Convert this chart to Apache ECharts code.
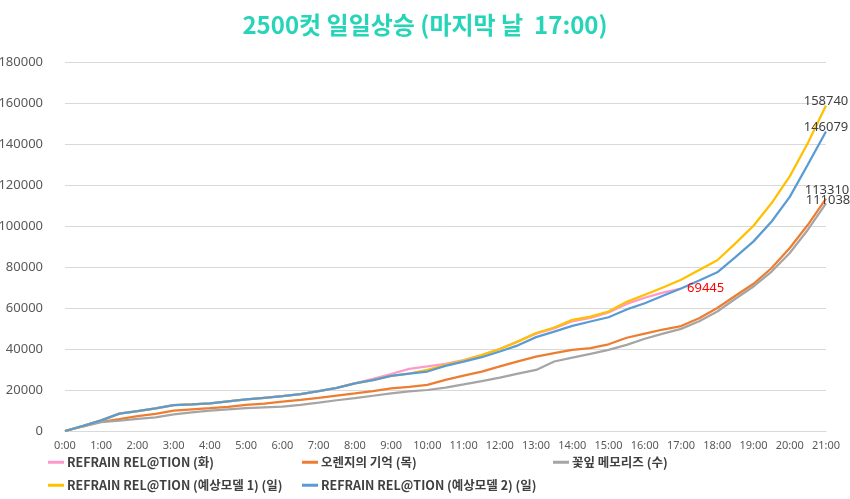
<!DOCTYPE html>
<html>
<head>
<meta charset="utf-8">
<script src="https://cdn.jsdelivr.net/npm/echarts@6/dist/echarts.min.js"></script>
<style>html,body{margin:0;padding:0;background:#fff;}#c{width:850px;height:499px;}</style>
</head>
<body>
<div id="c"></div>
<script>
const times = ["0:00","0:30","1:00","1:30","2:00","2:30","3:00","3:30","4:00","4:30","5:00","5:30","6:00","6:30","7:00","7:30","8:00","8:30","9:00","9:30","10:00","10:30","11:00","11:30","12:00","12:30","13:00","13:30","14:00","14:30","15:00","15:30","16:00","16:30","17:00","17:30","18:00","18:30","19:00","19:30","20:00","20:30","21:00"];

const seriesNames = ["REFRAIN REL@TION (화)","오렌지의 기억 (목)","꽃잎 메모리즈 (수)","REFRAIN REL@TION (예상모델 1) (일)","REFRAIN REL@TION (예상모델 2) (일)"];

const refrainTue = [0,2500,5200,8500,9700,11000,12600,13000,13500,14500,15400,16200,17000,18000,19500,21000,23200,25400,27800,30300,31500,32800,34600,37000,40000,43800,47500,50000,53500,55200,57800,62000,65000,67500,69445];
const orangeThu = [0,2300,4500,5800,7300,8400,9900,10600,11100,11800,12700,13400,14300,15200,16200,17300,18300,19500,20800,21500,22500,24900,27000,29000,31500,34000,36300,38000,39600,40400,42300,45500,47500,49500,51200,55000,60000,66000,71800,79500,89300,100600,113310];
const petalWed = [0,2200,4300,5000,5900,6700,8100,9100,9900,10500,11100,11500,11900,12800,13800,15000,16000,17200,18400,19300,20000,21200,22700,24300,26000,28000,29800,33900,35800,37600,39600,42000,45000,47500,49800,53500,58300,64500,70500,77800,86800,98200,111038];
const model1Sun = [0,2500,5200,8500,9700,11000,12600,13000,13500,14500,15400,16200,17000,18000,19500,21000,23200,24800,26900,28000,29800,32300,34300,37000,40000,43600,47800,50500,54200,55800,58300,63000,66500,70000,73800,78500,83300,91500,100100,111200,124200,140500,158740];
const model2Sun = [0,2500,5200,8500,9700,11000,12600,13000,13500,14500,15400,16200,17000,18000,19500,21000,23200,24800,26900,28000,29000,31800,33800,36000,38800,41800,45800,48500,51300,53400,55500,59300,62300,66000,69500,73400,77400,84800,92500,102200,114200,130000,146079];

const colors = ["#ff99cc","#ed7d31","#a5a5a5","#ffc000","#5b9bd5"];
const datasets = [refrainTue, orangeThu, petalWed, model1Sun, model2Sun];

const endLabelCfg = [
  {color:"#ff0000", align:"left", verticalAlign:"middle", offset:[6,0]},
  {color:"#404040", align:"center", verticalAlign:"middle", offset:[1,-8]},
  {color:"#404040", align:"center", verticalAlign:"middle", offset:[2,-3]},
  {color:"#404040", align:"center", verticalAlign:"middle", offset:[0,-4]},
  {color:"#404040", align:"center", verticalAlign:"middle", offset:[0,-4]}
];

const series = seriesNames.map((n, i) => ({
  name: n,
  type: "line",
  data: datasets[i],
  showSymbol: false,
  symbol: "none",
  smooth: false,
  color: colors[i],
  lineStyle: {width: 2.25, color: colors[i]},
  emphasis: {disabled: true},
  endLabel: Object.assign({
    show: true,
    distance: 0,
    fontSize: 13,
    fontFamily: "Noto Sans, sans-serif",
    formatter: p => String(p.value)
  }, endLabelCfg[i])
}));

const legendPos = [[43,451],[297,451],[548,451],[43,474],[297,474]];
const legends = seriesNames.map((n, i) => ({
  data: [n],
  left: legendPos[i][0],
  top: legendPos[i][1],
  icon: "rect",
  itemWidth: 16,
  itemHeight: 3,
  itemGap: 4,
  selectedMode: false,
  textStyle: {color: "#404040", fontSize: 12.5, fontWeight: "bold", fontFamily: "Noto Sans CJK KR, sans-serif", padding:[0,0,0,-2]}
}));

const chart = echarts.init(document.getElementById("c"));
chart.setOption({
  animation: false,
  backgroundColor: "#ffffff",
  title: {
    text: "2500컷 일일상승 (마지막 날  17:00)",
    left: "center",
    top: 8,
    textStyle: {color: "#26d4b8", fontSize: 24, fontWeight: "bold", fontFamily: "Noto Sans CJK KR, sans-serif"}
  },
  legend: legends,
  grid: {left: 65, right: 24, top: 62, bottom: 68, containLabel: false, outerBoundsMode: "none"},
  xAxis: {
    type: "category",
    data: times,
    boundaryGap: false,
    axisTick: {show: false},
    axisLine: {lineStyle: {color: "#d9d9d9"}},
    axisLabel: {interval: 1, color: "#595959", fontSize: 11, margin: 9, fontFamily: "Noto Sans, sans-serif"},
    splitLine: {show: false}
  },
  yAxis: {
    type: "value",
    min: 0,
    max: 180000,
    interval: 20000,
    axisLine: {show: false},
    axisTick: {show: false},
    axisLabel: {color: "#595959", fontSize: 13, margin: 22, fontFamily: "Noto Sans, sans-serif", formatter: v => String(v)},
    splitLine: {lineStyle: {color: "#d9d9d9", width: 1}}
  },
  series: series
});
</script>
</body>
</html>
